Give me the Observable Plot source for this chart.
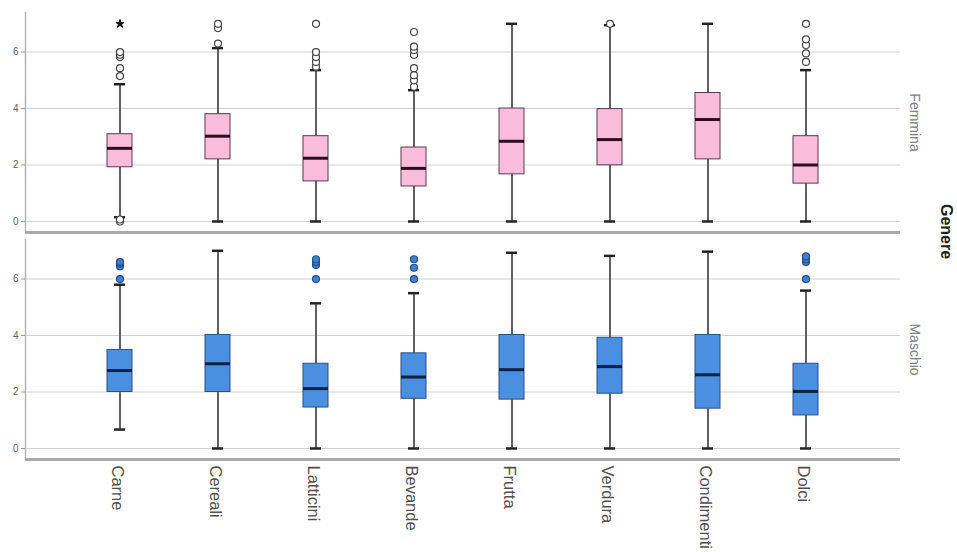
<!DOCTYPE html>
<html><head><meta charset="utf-8">
<script src="https://cdn.jsdelivr.net/npm/d3@7"></script>
<script src="https://cdn.jsdelivr.net/npm/@observablehq/plot@0.6"></script>
<style>
html,body{margin:0;padding:0;background:#fff;}
#wrap{position:relative;width:957px;height:552px;overflow:hidden;font-family:"Liberation Sans",Arial,sans-serif;}
#genere{position:absolute;left:938px;top:204px;writing-mode:vertical-rl;font-weight:bold;font-size:16px;color:#222;line-height:1;}
</style></head><body>
<div id="wrap"><div id="chart"></div><div id="genere">Genere</div></div>
<script>
const categories = ["Carne","Cereali","Latticini","Bevande","Frutta","Verdura","Condimenti","Dolci"];
const genders = ["Femmina","Maschio"];
const yTicks = [0,2,4,6];
const yDomain = [-0.39, 7.4];

// Femmina
const femLo  = [0.15, 0, 0, 0, 0, 0, 0, 0];
const femQ1  = [1.92, 2.20, 1.42, 1.24, 1.67, 1.99, 2.20, 1.34];
const femMed = [2.59, 3.02, 2.24, 1.88, 2.84, 2.90, 3.61, 2.00];
const femQ3  = [3.09, 3.80, 3.02, 2.62, 4.00, 3.98, 4.55, 3.02];
const femHi  = [4.86, 6.14, 5.36, 4.65, 7.00, 6.95, 7.00, 5.36];
const femOut = [
  [0, 0.07, 5.15, 5.43, 5.82, 5.9, 6.0],
  [6.3, 6.85, 7.0],
  [5.48, 5.65, 5.82, 6.0, 7.0],
  [4.77, 5.0, 5.18, 5.43, 5.9, 6.07, 6.19, 6.71],
  [],
  [7.0],
  [],
  [5.65, 5.95, 6.25, 6.45, 7.0]
];
const femExt = [[7.0],[],[],[],[],[],[],[]];

// Maschio
const maleLo  = [0.67, 0, 0, 0, 0, 0, 0, 0];
const maleQ1  = [2.00, 2.00, 1.45, 1.76, 1.73, 1.94, 1.41, 1.17];
const maleMed = [2.76, 3.00, 2.12, 2.53, 2.79, 2.90, 2.61, 2.02];
const maleQ3  = [3.49, 4.02, 3.00, 3.37, 4.02, 3.92, 4.02, 3.00];
const maleHi  = [5.80, 7.00, 5.14, 5.50, 6.93, 6.82, 6.97, 5.59];
const maleOut = [
  [6.0, 6.45, 6.55, 6.6],
  [],
  [6.0, 6.5, 6.6, 6.7],
  [6.0, 6.4, 6.7],
  [],
  [],
  [],
  [6.0, 6.6, 6.7, 6.8]
];

function stats(g, lo, q1, med, q3, hi) {
  return categories.map((c, i) => ({cat: c, gender: g, lo: lo[i], q1: q1[i], med: med[i], q3: q3[i], hi: hi[i]}));
}
function points(g, arr) {
  return arr.flatMap((vals, i) => vals.map(v => ({cat: categories[i], gender: g, v})));
}
const statsF = stats("Femmina", femLo, femQ1, femMed, femQ3, femHi);
const statsM = stats("Maschio", maleLo, maleQ1, maleMed, maleQ3, maleHi);
const allStats = statsF.concat(statsM);
const outF = points("Femmina", femOut);
const extF = points("Femmina", femExt);
const outM = points("Maschio", maleOut);

const chart = Plot.plot({
  width: 957,
  height: 552,
  marginLeft: 25,
  marginRight: 57,
  marginTop: 12,
  marginBottom: 93,
  style: {fontFamily: "'Liberation Sans', Arial, sans-serif", background: "#fff"},
  x: {domain: categories, paddingInner: 0.74, paddingOuter: 0.805, label: null},
  y: {domain: yDomain, label: null},
  fy: {domain: genders, padding: 0.031, label: null},
  marks: [
    Plot.gridY(yTicks, {stroke: "#d2d2d2", strokeOpacity: 1, strokeWidth: 1}),
    Plot.frame({anchor: "left", stroke: "#b4b4b4", strokeWidth: 1.5}),
    Plot.ruleY([yDomain[0]], {stroke: "#a9a9a9", strokeWidth: 3}),
    Plot.axisY(yTicks, {anchor: "left", tickSize: 4, tickPadding: 3, fontSize: 10, color: "#666", stroke: "#999", label: null}),
    Plot.axisX({anchor: "bottom", tickSize: 0, tickPadding: 6, tickRotate: 90, dx: -3, fontSize: 16.5, color: "#505050", label: null}),
    Plot.axisFy({anchor: "right", tickSize: 0, tickPadding: 12, tickRotate: 90, dx: 7, fontSize: 14, color: "#808080", label: null}),
    // whiskers
    Plot.ruleX(allStats, {x: "cat", fy: "gender", y1: "lo", y2: "q1", stroke: "#505050", strokeWidth: 1.8}),
    Plot.ruleX(allStats, {x: "cat", fy: "gender", y1: "q3", y2: "hi", stroke: "#505050", strokeWidth: 1.8}),
    // caps
    Plot.tickY(allStats, {x: "cat", fy: "gender", y: "lo", stroke: "#222", strokeWidth: 2.5, inset: 7}),
    Plot.tickY(allStats, {x: "cat", fy: "gender", y: "hi", stroke: "#222", strokeWidth: 2.5, inset: 7}),
    // boxes
    Plot.barY(statsF, {x: "cat", fy: "gender", y1: "q1", y2: "q3", fill: "#f9bddb", stroke: "#5a3a4d", strokeWidth: 1}),
    Plot.barY(statsM, {x: "cat", fy: "gender", y1: "q1", y2: "q3", fill: "#4a8fe0", stroke: "#26518a", strokeWidth: 1}),
    // medians
    Plot.tickY(statsF, {x: "cat", fy: "gender", y: "med", stroke: "#2b0f1f", strokeWidth: 3}),
    Plot.tickY(statsM, {x: "cat", fy: "gender", y: "med", stroke: "#0d2240", strokeWidth: 3}),
    // outliers
    Plot.dot(outF, {x: "cat", fy: "gender", y: "v", r: 3.5, fill: "#fff", stroke: "#444", strokeWidth: 1.2}),
    Plot.dot(extF, {x: "cat", fy: "gender", y: "v", r: 2.6, symbol: "star", fill: "#111", stroke: "#111", strokeWidth: 1}),
    Plot.dot(outM, {x: "cat", fy: "gender", y: "v", r: 3.5, fill: "#3f7fd2", stroke: "#22508f", strokeWidth: 1.2})
  ]
});
document.getElementById("chart").appendChild(chart);
</script>
</body></html>
